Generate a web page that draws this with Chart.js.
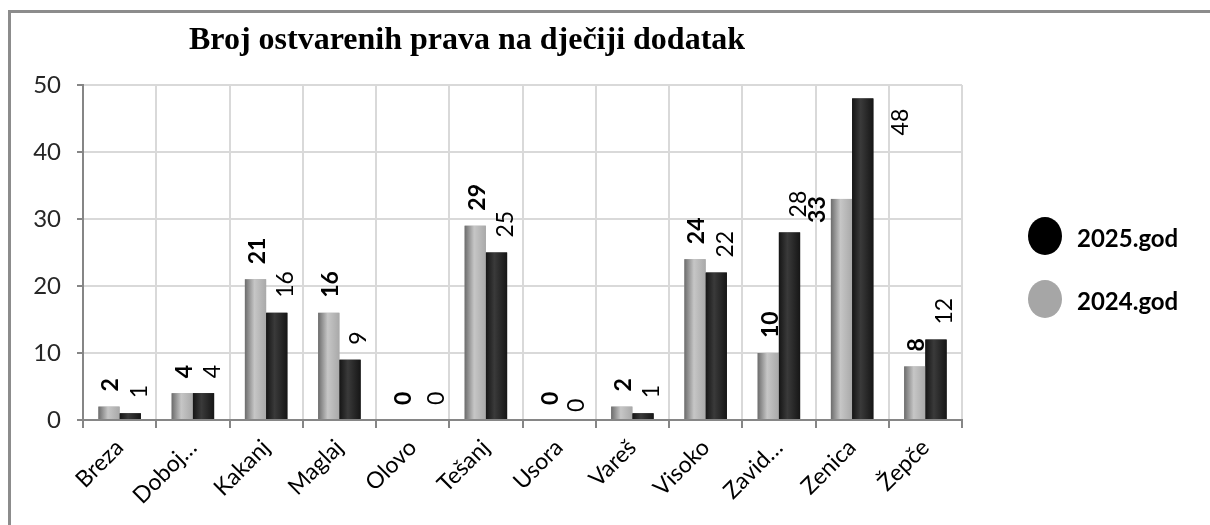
<!DOCTYPE html>
<html>
<head>
<meta charset="utf-8">
<script src="https://cdn.jsdelivr.net/npm/chart.js@4.4.1/dist/chart.umd.min.js"></script>
<style>
  html, body { margin: 0; padding: 0; background: #fff; }
  #wrap { position: relative; width: 1210px; height: 525px; overflow: hidden; }
  #frame {
    position: absolute; left: 8px; top: 10px; width: 1300px; height: 700px;
    border-left: 3px solid #8c8c8c; border-top: 3px solid #8c8c8c;
  }
  #c { position: absolute; left: 0; top: 0; }
</style>
</head>
<body>
<div id="wrap">
  <div id="frame"></div>
  <canvas id="c" width="1210" height="525"></canvas>
</div>
<script>
// ---- data ----
const categories = ['Breza', 'Doboj…', 'Kakanj', 'Maglaj', 'Olovo', 'Tešanj', 'Usora', 'Vareš', 'Visoko', 'Zavid…', 'Zenica', 'Žepče'];
const values2024 = [2, 4, 21, 16, 0, 29, 0, 2, 24, 10, 33, 8];
const values2025 = [1, 4, 16, 9, 0, 25, 0, 1, 22, 28, 48, 12];
const seriesNames = ['2024.god', '2025.god'];
const chartTitle = 'Broj ostvarenih prava na dječiji dodatak';

const COLORS = {
  grid: '#d9d9d9',
  axis: '#868686',
  gray: '#a8a8a8',
  black: '#1c1c1c',
  text: '#000000',
  tick: '#262626',
};

// a few labels were moved by hand in the original chart
const LABEL_NUDGE = {
  '0:10': { dx: -26, dy: 39 },
  '1:10': { dx: 29, dy: 52 },
  '1:6': { dx: -2, dy: 7 },
  '1:4': { dx: 4, dy: 0 },
};

// bar shading, left to right
function barGradient(ctx, x0, x1, dark) {
  const g = ctx.createLinearGradient(x0, 0, x1, 0);
  if (dark) {
    g.addColorStop(0, '#151515');
    g.addColorStop(0.4, '#3a3a3a');
    g.addColorStop(1, '#161616');
  } else {
    g.addColorStop(0, '#6c6c6c');
    g.addColorStop(0.45, '#c6c6c6');
    g.addColorStop(1, '#a9a9a9');
  }
  return g;
}

const decorPlugin = {
  id: 'decor',
  afterDatasetsDraw(chart) {
    const ctx = chart.ctx;
    // shaded bars over the flat ones
    chart.data.datasets.forEach((ds, di) => {
      const meta = chart.getDatasetMeta(di);
      meta.data.forEach(el => {
        const p = el.getProps(['x', 'y', 'base', 'width'], true);
        if (Math.abs(p.base - p.y) < 0.5) return;
        const x0 = p.x - p.width / 2;
        ctx.save();
        ctx.fillStyle = barGradient(ctx, x0, x0 + p.width, di === 1);
        ctx.fillRect(x0, Math.min(p.y, p.base), p.width, Math.abs(p.base - p.y));
        ctx.restore();
      });
    });

    // value labels, rotated
    chart.data.datasets.forEach((ds, di) => {
      const meta = chart.getDatasetMeta(di);
      meta.data.forEach((el, i) => {
        const p = el.getProps(['x', 'y'], true);
        const nudge = LABEL_NUDGE[di + ':' + i] || { dx: 0, dy: 0 };
        const x = p.x + (di === 0 ? 2 : 9) + nudge.dx;
        const y = p.y - 15 + nudge.dy;
        ctx.save();
        ctx.translate(x, y);
        ctx.rotate(-Math.PI / 2);
        ctx.font = (di === 0 ? 'bold ' : '') + '23px Lato';
        ctx.fillStyle = COLORS.text;
        ctx.textAlign = 'left';
        ctx.textBaseline = 'middle';
        ctx.fillText(String(ds.data[i]), 0, 0);
        ctx.restore();
      });
    });
  },
  afterDraw(chart) {
    const ctx = chart.ctx;
    // title
    ctx.save();
    ctx.font = 'bold 32px "Liberation Serif"';
    ctx.fillStyle = COLORS.text;
    ctx.textAlign = 'center';
    ctx.textBaseline = 'alphabetic';
    ctx.fillText(chartTitle, 467, 49);
    ctx.restore();

    // legend, newest year first
    const items = [
      { text: seriesNames[1], color: '#000000', cy: 236 },
      { text: seriesNames[0], color: '#a6a6a6', cy: 299 },
    ];
    items.forEach(it => {
      ctx.save();
      ctx.beginPath();
      ctx.ellipse(1045, it.cy, 17, 19, 0, 0, Math.PI * 2);
      ctx.fillStyle = it.color;
      ctx.fill();
      ctx.font = 'bold 24px Lato';
      ctx.fillStyle = COLORS.text;
      ctx.textAlign = 'left';
      ctx.textBaseline = 'middle';
      ctx.fillText(it.text, 1077, it.cy + 3);
      ctx.restore();
    });
  },
};

new Chart(document.getElementById('c'), {
  type: 'bar',
  data: {
    labels: categories,
    datasets: [
      { label: seriesNames[0], data: values2024, backgroundColor: COLORS.gray },
      { label: seriesNames[1], data: values2025, backgroundColor: COLORS.black },
    ],
  },
  options: {
    responsive: false,
    devicePixelRatio: 1,
    animation: false,
    categoryPercentage: 0.58,
    barPercentage: 1.0,
    layout: { padding: { left: 0, right: 248, top: 85, bottom: 0 } },
    plugins: {
      legend: { display: false },
      title: { display: false },
      tooltip: { enabled: false },
    },
    scales: {
      x: {
        grid: { offset: true, color: COLORS.grid, lineWidth: 2, tickColor: COLORS.axis, tickLength: 8 },
        border: { color: COLORS.axis, width: 2 },
        ticks: {
          color: COLORS.text,
          font: { family: 'Lato', size: 23 },
          minRotation: 45,
          maxRotation: 45,
          autoSkip: false,
          padding: 6,
        },
        afterFit(scale) { scale.height = 105; },
      },
      y: {
        min: 0,
        max: 50,
        grid: { color: COLORS.grid, lineWidth: 2, tickColor: COLORS.axis, tickLength: 6 },
        border: { color: COLORS.axis, width: 2 },
        ticks: {
          stepSize: 10,
          color: COLORS.tick,
          font: { family: 'Lato', size: 24 },
          padding: 16,
        },
        afterFit(scale) { scale.width = 83; },
      },
    },
  },
  plugins: [decorPlugin],
});
</script>
</body>
</html>
